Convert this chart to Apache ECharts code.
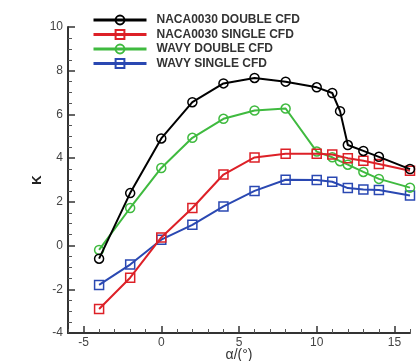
<!DOCTYPE html>
<html>
<head>
<meta charset="utf-8">
<script src="https://cdn.jsdelivr.net/npm/echarts@6/dist/echarts.min.js"></script>
<style>
html,body{margin:0;padding:0;background:#fff;}
#chart{width:420px;height:361px;}
</style>
</head>
<body>
<div id="chart"></div>
<script>
// ---- data ----
var seriesNames = ['NACA0030 DOUBLE CFD', 'NACA0030 SINGLE CFD', 'WAVY DOUBLE CFD', 'WAVY SINGLE CFD'];
var alphaNacaDouble = [-4, -2, 0, 2, 4, 6, 8, 10, 11, 11.5, 12, 13, 14, 16];
var kNacaDouble     = [-0.6, 2.4, 4.9, 6.56, 7.42, 7.67, 7.5, 7.24, 6.98, 6.15, 4.6, 4.33, 4.06, 3.5];
var alphaNacaSingle = [-4, -2, 0, 2, 4, 6, 8, 10, 11, 12, 13, 14, 16];
var kNacaSingle     = [-2.9, -1.47, 0.37, 1.72, 3.25, 4.03, 4.2, 4.2, 4.17, 4.0, 3.88, 3.73, 3.42];
var alphaWavyDouble = [-4, -2, 0, 2, 4, 6, 8, 10, 11, 11.5, 12, 13, 14, 16];
var kWavyDouble     = [-0.2, 1.72, 3.55, 4.93, 5.8, 6.18, 6.27, 4.3, 4.04, 3.86, 3.7, 3.37, 3.05, 2.65];
var alphaWavySingle = [-4, -2, 0, 2, 4, 6, 8, 10, 11, 12, 13, 14, 16];
var kWavySingle     = [-1.8, -0.87, 0.27, 0.95, 1.79, 2.5, 3.01, 3.0, 2.92, 2.63, 2.57, 2.54, 2.29];
var xTickValues = [-5, 0, 5, 10, 15];
var xMinorTickValues = [-6, -4, -3, -2, -1, 1, 2, 3, 4, 6, 7, 8, 9, 11, 12, 13, 14, 16];
var yTickValues = [-4, -2, 0, 2, 4, 6, 8, 10];

function pairs(xs, ys) { return xs.map(function (x, i) { return [x, ys[i]]; }); }

var colors = ['#000000', '#dd2027', '#3fba3f', '#2a48b2'];
var symbols = ['circle', 'rect', 'circle', 'rect'];
var dataSets = [
  pairs(alphaNacaDouble, kNacaDouble),
  pairs(alphaNacaSingle, kNacaSingle),
  pairs(alphaWavyDouble, kWavyDouble),
  pairs(alphaWavySingle, kWavySingle)
];

var series = dataSets.map(function (d, i) {
  return {
    name: seriesNames[i],
    type: 'line',
    data: d,
    xAxisIndex: 0,
    yAxisIndex: 0,
    symbol: symbols[i],
    symbolSize: 9,
    showAllSymbol: true,
    lineStyle: { color: colors[i], width: 2 },
    itemStyle: { color: 'transparent', borderColor: colors[i], borderWidth: 1.5 },
    emphasis: { disabled: true },
    z: 2 + (3 - i)
  };
});

var chart = echarts.init(document.getElementById('chart'));
chart.setOption({
  animation: false,
  backgroundColor: '#fff',
  color: colors,
  grid: { left: 68, right: 10, top: 27, bottom: 28, containLabel: false, outerBoundsMode: 'none' },
  legend: {
    orient: 'vertical',
    left: 92,
    top: 14,
    padding: 0,
    itemWidth: 53,
    itemHeight: 11,
    itemGap: 2.5,
    data: seriesNames,
    lineStyle: { width: 3 },
    textStyle: { fontFamily: 'Liberation Sans', fontWeight: 'bold', fontSize: 12, color: '#333', padding: [0, 0, 0, 5] }
  },
  xAxis: [{
    type: 'value',
    min: -6,
    max: 16,
    name: 'α/(°)',
    nameLocation: 'middle',
    nameGap: 15,
    nameMoveOverlap: false,
    nameTextStyle: { fontFamily: 'Liberation Sans', fontSize: 14, color: '#333' },
    axisLine: { show: true, onZero: false, lineStyle: { color: '#333', width: 2 } },
    axisTick: { show: true, inside: true, length: 7, customValues: xTickValues, lineStyle: { color: '#333', width: 1.5 } },
    axisLabel: { customValues: xTickValues, margin: 4, fontFamily: 'Liberation Sans', fontSize: 12, color: '#444' },
    splitLine: { show: false }
  }, {
    type: 'value',
    min: -6,
    max: 16,
    position: 'bottom',
    axisLine: { show: false, onZero: false },
    axisTick: { show: true, inside: true, length: 4, customValues: xMinorTickValues, lineStyle: { color: '#555', width: 1 } },
    axisLabel: { show: false },
    splitLine: { show: false }
  }],
  yAxis: {
    type: 'value',
    min: -4,
    max: 10,
    interval: 2,
    name: 'K',
    nameLocation: 'middle',
    nameGap: 24,
    nameMoveOverlap: false,
    nameRotate: 90,
    nameTextStyle: { fontFamily: 'Liberation Sans', fontWeight: 'bold', fontSize: 13, color: '#222' },
    axisLine: { show: true, onZero: false, lineStyle: { color: '#333', width: 2 } },
    axisTick: { show: true, inside: true, length: 7, lineStyle: { color: '#333', width: 1.5 } },
    minorTick: { show: true, splitNumber: 4, length: 4, lineStyle: { color: '#555', width: 1 } },
    axisLabel: { margin: 5, fontFamily: 'Liberation Sans', fontSize: 12, color: '#444' },
    splitLine: { show: false }
  },
  series: series
});
</script>
</body>
</html>
